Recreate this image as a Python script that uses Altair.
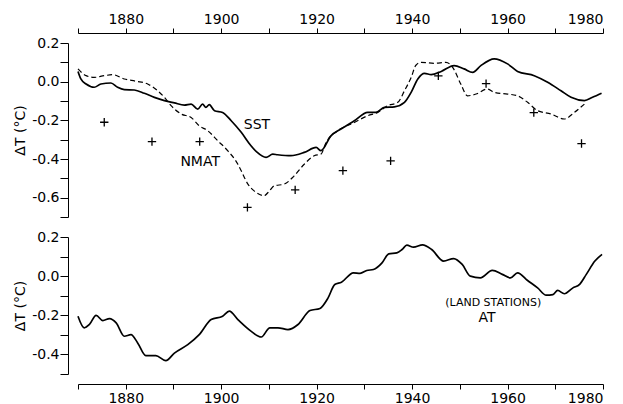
import altair as alt
import pandas as pd

# --- data ---
sst_year = [1870.0, 1870.6, 1871.7, 1873.4, 1874.8, 1876.9, 1878.3, 1879.7, 1881.8, 1883.9,
            1886.0, 1888.1, 1890.2, 1892.3, 1893.7, 1895.1, 1896.1, 1896.8, 1897.5, 1898.6,
            1900.3, 1902.1, 1904.2, 1906.2, 1907.5, 1909.4, 1910.8, 1911.8, 1914.6, 1917.4,
            1919.9, 1920.9, 1923.0, 1925.1, 1927.9, 1930.7, 1932.4, 1934.2, 1936.3, 1938.4,
            1939.8, 1941.2, 1942.6, 1944.0, 1946.1, 1948.8, 1950.9, 1952.7, 1954.4, 1957.2,
            1960.0, 1962.1, 1965.6, 1968.4, 1971.2, 1973.3, 1976.1, 1977.8, 1979.7]
sst_val = [0.053, 0.014, -0.012, -0.029, -0.012, -0.007, -0.029, -0.041, -0.043, -0.060,
           -0.081, -0.098, -0.110, -0.121, -0.116, -0.142, -0.116, -0.133, -0.119, -0.150,
           -0.159, -0.202, -0.262, -0.330, -0.365, -0.392, -0.375, -0.378, -0.383, -0.366,
           -0.340, -0.357, -0.280, -0.245, -0.202, -0.159, -0.159, -0.133, -0.130, -0.107,
           -0.055, 0.014, 0.043, 0.036, 0.053, 0.083, 0.066, 0.048, 0.083, 0.118,
           0.092, 0.053, 0.031, -0.003, -0.047, -0.081, -0.098, -0.081, -0.060]

nmat_year = [1870.0, 1871.7, 1873.4, 1875.5, 1877.3, 1879.7, 1882.2, 1884.6, 1886.7, 1888.1,
             1889.5, 1891.6, 1893.7, 1895.4, 1897.2, 1899.3, 1901.4, 1903.5, 1904.2, 1905.6,
             1906.9, 1909.0, 1910.1, 1911.1, 1913.2, 1915.3, 1917.4, 1919.5, 1920.9, 1922.0,
             1924.4, 1927.9, 1930.7, 1932.8, 1934.9, 1937.0, 1938.4, 1939.8, 1940.8, 1941.9,
             1944.7, 1947.1, 1948.5, 1950.2, 1951.6, 1953.4, 1955.8, 1957.2, 1960.0, 1962.1,
             1964.2, 1966.3, 1969.1, 1971.9, 1974.0, 1976.1]
nmat_val = [0.066, 0.031, 0.022, 0.031, 0.036, 0.014, 0.002, -0.012, -0.047, -0.081,
            -0.124, -0.167, -0.185, -0.228, -0.254, -0.306, -0.358, -0.427, -0.461, -0.530,
            -0.565, -0.590, -0.565, -0.539, -0.530, -0.487, -0.427, -0.383, -0.375, -0.314,
            -0.254, -0.211, -0.176, -0.159, -0.124, -0.107, -0.047, 0.022, 0.085, 0.100,
            0.095, 0.100, 0.074, -0.012, -0.073, -0.064, -0.038, -0.055, -0.064, -0.073,
            -0.107, -0.150, -0.167, -0.193, -0.159, -0.116]

cross_year = [1875.5, 1885.5, 1895.5, 1905.5, 1915.5, 1925.5, 1935.5, 1945.5, 1955.5, 1965.5, 1975.5]
cross_val = [-0.21, -0.31, -0.31, -0.65, -0.56, -0.46, -0.41, 0.03, -0.01, -0.16, -0.32]

at_year = [1870.0, 1871.3, 1872.4, 1873.8, 1875.2, 1876.6, 1878.0, 1879.7, 1881.1, 1882.5,
           1884.2, 1886.3, 1888.4, 1890.2, 1893.0, 1895.4, 1897.9, 1900.3, 1901.7, 1903.5,
           1906.3, 1908.4, 1910.2, 1911.9, 1914.0, 1916.1, 1918.6, 1920.7, 1922.4, 1923.8,
           1925.2, 1927.7, 1929.1, 1930.5, 1931.9, 1933.7, 1935.1, 1936.8, 1937.9, 1938.9,
           1940.3, 1942.2, 1944.1, 1946.6, 1948.7, 1950.5, 1952.2, 1954.3, 1956.8, 1958.9,
           1960.6, 1962.1, 1964.2, 1966.3, 1968.1, 1969.5, 1970.5, 1971.9, 1973.7, 1975.1,
           1976.5, 1978.3, 1979.8]
at_val = [-0.205, -0.264, -0.247, -0.200, -0.227, -0.217, -0.239, -0.307, -0.299, -0.341,
          -0.406, -0.406, -0.432, -0.393, -0.350, -0.299, -0.222, -0.205, -0.179, -0.222,
          -0.282, -0.311, -0.264, -0.264, -0.273, -0.247, -0.176, -0.165, -0.111, -0.043,
          -0.031, 0.017, 0.014, 0.029, 0.034, 0.068, 0.114, 0.119, 0.136, 0.158,
          0.148, 0.160, 0.136, 0.077, 0.090, 0.060, 0.000, -0.009, 0.029, 0.009,
          -0.009, 0.017, -0.022, -0.060, -0.097, -0.094, -0.073, -0.090, -0.060, -0.042,
          0.009, 0.077, 0.111]

top_labels = ["SST", "NMAT"]
top_label_year = [1907.5, 1895.6]
top_label_val = [-0.223, -0.415]

bottom_labels = ["(LAND STATIONS)", "AT"]
bottom_label_year = [1957.0, 1955.7]
bottom_label_val = [-0.137, -0.215]
bottom_label_size = [11, 14]

x_ticks = list(range(1870, 1981, 10))
y_ticks_top = [-0.7, -0.6, -0.5, -0.4, -0.3, -0.2, -0.1, 0.0, 0.1, 0.2]
y_ticks_bottom = [-0.5, -0.4, -0.3, -0.2, -0.1, 0.0, 0.1, 0.2]

FONT = "DejaVu Sans"
W = 525

x_label_expr = "datum.value % 20 == 0 ? format(datum.value, 'd') : ''"
y_label_expr = ("abs(round(datum.value*10)) % 2 == 0 ? "
                "(datum.value < -0.001 ? '-' : '') + format(abs(datum.value), '.1f') : ''")


def x_enc(orient):
    return alt.X("year:Q",
                 scale=alt.Scale(domain=[1870, 1980], nice=False, zero=False),
                 axis=alt.Axis(orient=orient, values=x_ticks, labelExpr=x_label_expr,
                               offset=10, tickSize=5, labelPadding=2, grid=False,
                               title=None))


def y_enc(domain, ticks):
    return alt.Y("val:Q",
                 scale=alt.Scale(domain=domain, nice=False, zero=False),
                 axis=alt.Axis(values=ticks, labelExpr=y_label_expr, offset=10,
                               tickSize=8, labelPadding=1, grid=False,
                               title="ΔT (°C)", titlePadding=4))


sst_df = pd.DataFrame({"year": sst_year, "val": sst_val})
nmat_df = pd.DataFrame({"year": nmat_year, "val": nmat_val})
cross_df = pd.DataFrame({"year": cross_year, "val": cross_val})
at_df = pd.DataFrame({"year": at_year, "val": at_val})
tl_df = pd.DataFrame({"year": top_label_year, "val": top_label_val, "t": top_labels})
bl_df = pd.DataFrame({"year": bottom_label_year, "val": bottom_label_val,
                      "t": bottom_labels, "s": bottom_label_size})

xt = x_enc("top")
yt = y_enc([-0.7, 0.2], y_ticks_top)

sst_line = alt.Chart(sst_df).mark_line(color="black", strokeWidth=1.7,
                                       interpolate="monotone").encode(x=xt, y=yt)
nmat_line = alt.Chart(nmat_df).mark_line(color="black", strokeWidth=1.2,
                                         strokeDash=[5, 3],
                                         interpolate="monotone").encode(x=xt, y=yt)
crosses = alt.Chart(cross_df).mark_point(shape="M-1,0L1,0M0,-1L0,1", filled=False,
                                         color="black", strokeWidth=1.3,
                                         size=70, opacity=1).encode(x=xt, y=yt)
top_text = alt.Chart(tl_df).mark_text(font=FONT, fontSize=14, color="black").encode(
    x=xt, y=yt, text="t:N")

top = alt.layer(sst_line, nmat_line, crosses, top_text).properties(width=W, height=174)

xb = x_enc("bottom")
yb = y_enc([-0.5, 0.2], y_ticks_bottom)

at_line = alt.Chart(at_df).mark_line(color="black", strokeWidth=1.7,
                                     interpolate="monotone").encode(x=xb, y=yb)
bottom_text = alt.Chart(bl_df).mark_text(font=FONT, color="black").encode(
    x=xb, y=yb, text="t:N", size=alt.Size("s:Q", scale=None, legend=None))

bottom = alt.layer(at_line, bottom_text).properties(width=W, height=137)

chart = alt.vconcat(top, bottom, spacing=12).properties(
    padding={"left": 5, "top": 4, "right": 5, "bottom": 0}
).configure_view(stroke=None).configure_axis(
    domainColor="black", tickColor="black", labelColor="black", titleColor="black",
    labelFont=FONT, titleFont=FONT, labelFontSize=14, titleFontSize=14,
    titleFontWeight="normal", domainWidth=1, tickWidth=1
)

chart.save("out.html", embed_options={"renderer": "svg", "actions": False})
